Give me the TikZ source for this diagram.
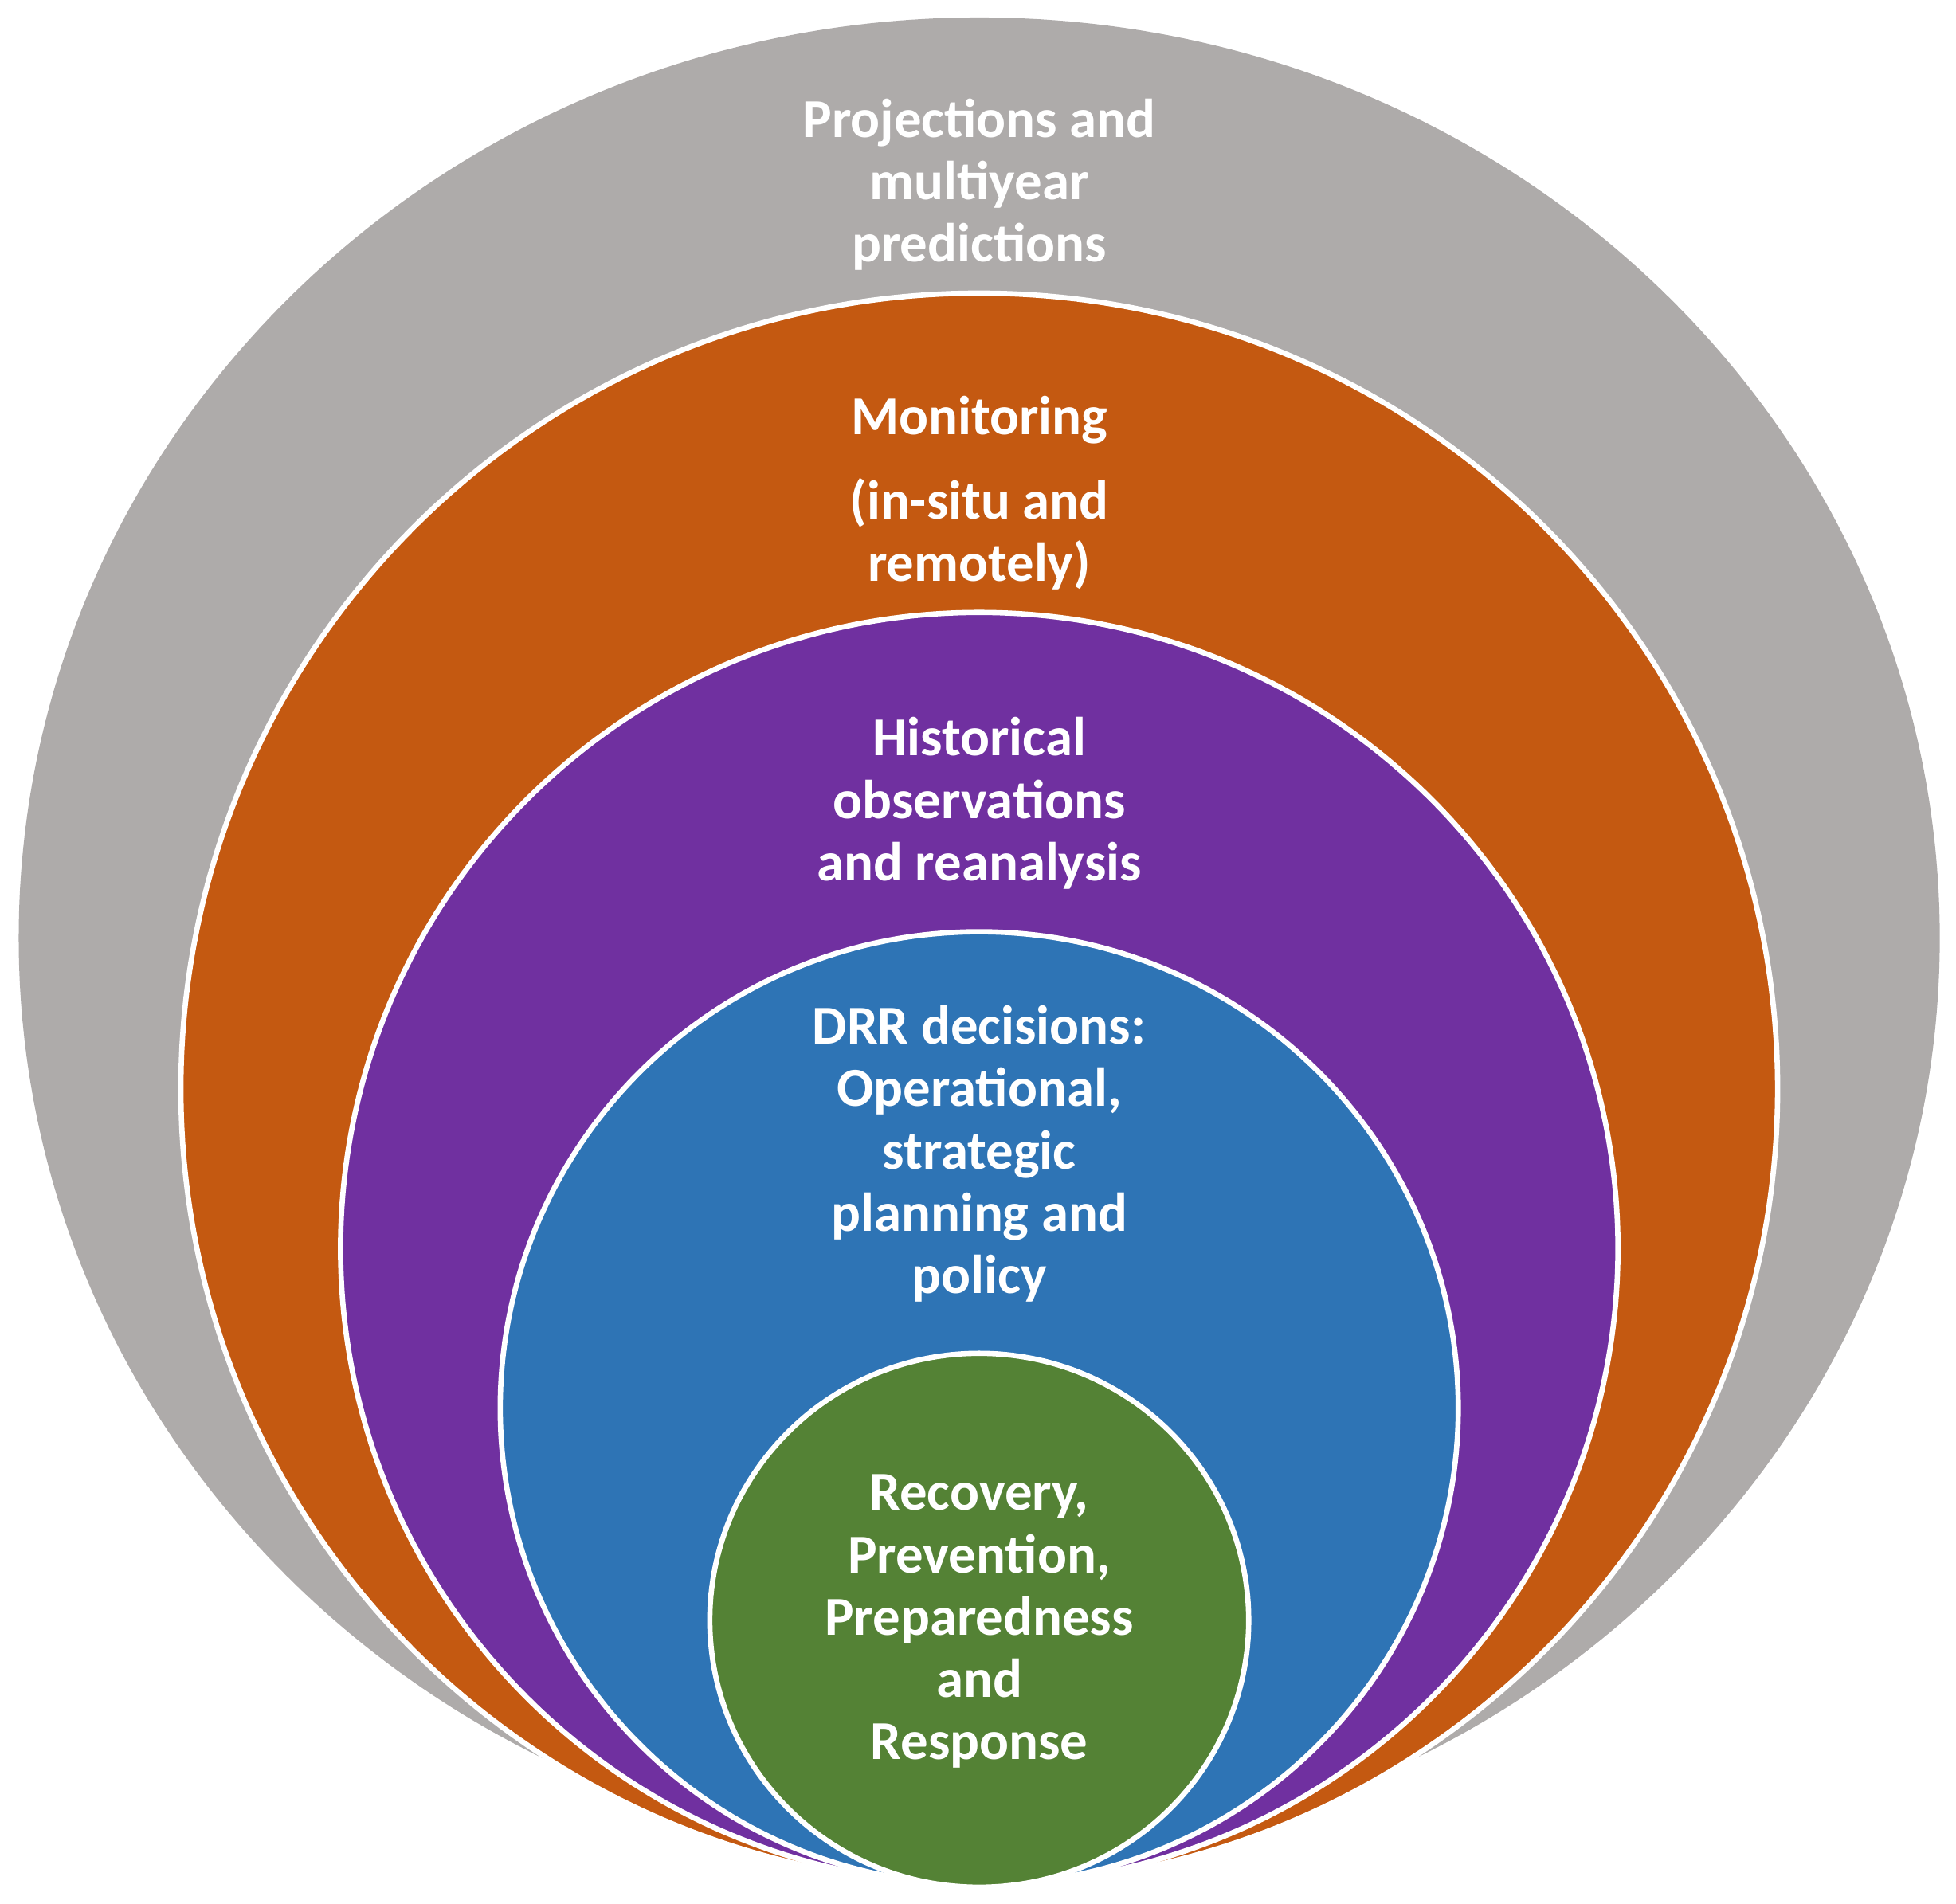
\documentclass[tikz,border=0pt]{standalone}
\usepackage{fontspec}
\setmainfont{Carlito}
\definecolor{ringgray}{RGB}{174,171,170}
\definecolor{ringorange}{RGB}{196,89,17}
\definecolor{ringpurple}{RGB}{112,48,160}
\definecolor{ringblue}{RGB}{46,116,181}
\definecolor{ringgreen}{RGB}{84,130,53}
\tikzset{
  ring/.style={draw=white, line width=1.2pt},
  lbl/.style={text=white, align=center, font=\bfseries\fontsize{12.5}{14.2}\selectfont}
}
\begin{document}
\begin{tikzpicture}[x=0.01cm, y=-0.01cm]
		\useasboundingbox (0,0) rectangle (1568,1526);
		\fill[ringgray] (785,752) ellipse (770 and 738);
		\filldraw[ring, fill=ringorange] (785,873) ellipse (640 and 638);
		\filldraw[ring, fill=ringpurple] (785,1001) ellipse (512 and 510);
		\filldraw[ring, fill=ringblue] (785,1129) ellipse (384 and 382);
		\filldraw[ring, fill=ringgreen] (785,1299) ellipse (216 and 214);
		
		\node[lbl] (proj) at (785,148) {Projections and\\multiyear\\predictions};
		\node[lbl] (mon) at (785,337) {Monitoring};
		\node[lbl] (insitu) at (785,428) {(in-situ and\\remotely)};
		\node[lbl] (hist) at (785,644) {Historical\\observations\\and reanalysis};
		\node[lbl] (drr) at (785,925) {DRR decisions:\\Operational,\\strategic\\planning and\\policy};
		\node[lbl] (rec) at (785,1300) {Recovery,\\Prevention,\\Preparedness\\and\\Response};
	\end{tikzpicture}
\end{document}
